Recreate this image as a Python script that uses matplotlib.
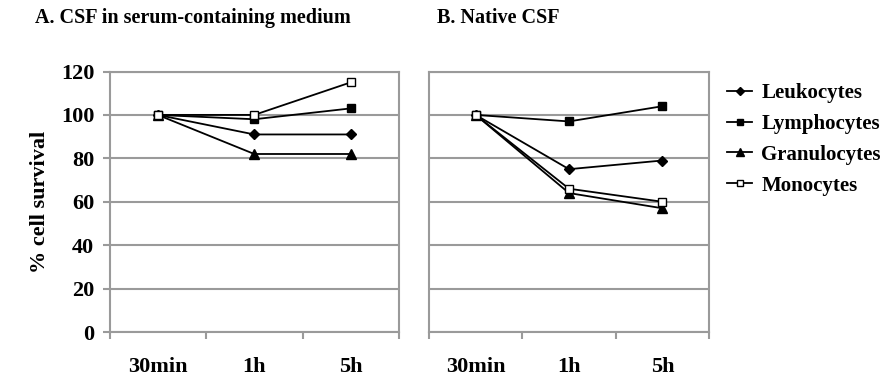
import matplotlib.pyplot as plt

times = ['30min', '1h', '5h']
series = ['Leukocytes', 'Lymphocytes', 'Granulocytes', 'Monocytes']

# panel A: CSF in serum-containing medium
a_leuko = [100, 91, 91]
a_lympho = [100, 98, 103]
a_granulo = [100, 82, 82]
a_mono = [100, 100, 115]

# panel B: native CSF
b_leuko = [100, 75, 79]
b_lympho = [100, 97, 104]
b_granulo = [100, 64, 57]
b_mono = [100, 66, 60]

styles = {
    'Leukocytes': dict(marker='D', ms=5, mfc='black', mec='black'),
    'Lymphocytes': dict(marker='s', ms=6, mfc='black', mec='black'),
    'Granulocytes': dict(marker='^', ms=7, mfc='black', mec='black'),
    'Monocytes': dict(marker='s', ms=6, mfc='white', mec='black', mew=1.0),
}

plt.rcParams['font.family'] = ['Liberation Serif', 'DejaVu Serif']
plt.rcParams['font.weight'] = 'bold'

fig = plt.figure(figsize=(8.88, 3.77), dpi=100)
ax1 = fig.add_axes([109.5 / 888, 1 - 332 / 377, (399 - 109.5) / 888, (332 - 71.5) / 377])
ax2 = fig.add_axes([429 / 888, 1 - 332 / 377, (709 - 429) / 888, (332 - 71.5) / 377])

grid_col = '#9a9a9a'
x = list(range(len(times)))

for ax, data in [(ax1, [a_leuko, a_lympho, a_granulo, a_mono]),
                 (ax2, [b_leuko, b_lympho, b_granulo, b_mono])]:
    for name, vals in zip(series, data):
        ax.plot(x, vals, color='black', lw=1.3, label=name, zorder=3, **styles[name])
    ax.set_xlim(-0.5, 2.5)
    ax.set_ylim(0, 120)
    ax.set_yticks(range(0, 121, 20))
    ax.grid(axis='y', color=grid_col, lw=1.5)
    ax.set_axisbelow(True)
    for sp in ax.spines.values():
        sp.set_color(grid_col)
        sp.set_linewidth(1.5)
    ax.set_xticks(x)
    ax.set_xticklabels(times, fontsize=16, fontweight='bold')
    ax.set_xticks([-0.5, 0.5, 1.5, 2.5], minor=True)
    ax.tick_params(axis='x', which='major', length=0, pad=18)
    ax.tick_params(axis='x', which='minor', length=5, width=1.5, color=grid_col)
    ax.tick_params(axis='y', length=5, width=1.5, color=grid_col, labelsize=16, pad=6)

ax2.tick_params(axis='y', length=0, labelleft=False)

ax1.set_ylabel('% cell survival', fontsize=16, fontweight='bold', labelpad=8)

fig.text(35 / 888, 1 - 18 / 377, 'A. CSF in serum-containing medium', fontsize=14.5,
         fontweight='bold', va='center', ha='left')
fig.text(437 / 888, 1 - 18 / 377, 'B. Native CSF', fontsize=14.5,
         fontweight='bold', va='center', ha='left')

handles, labels = ax2.get_legend_handles_labels()
fig.legend(handles, labels, loc='upper left', bbox_to_anchor=(727 / 888, 1 - 83 / 377),
           frameon=False, borderpad=0, borderaxespad=0, handlelength=1.2,
           handletextpad=0.45, labelspacing=0.52, markerscale=0.8,
           prop={'weight': 'bold', 'size': 15})

fig.savefig('out.png', dpi=100)
